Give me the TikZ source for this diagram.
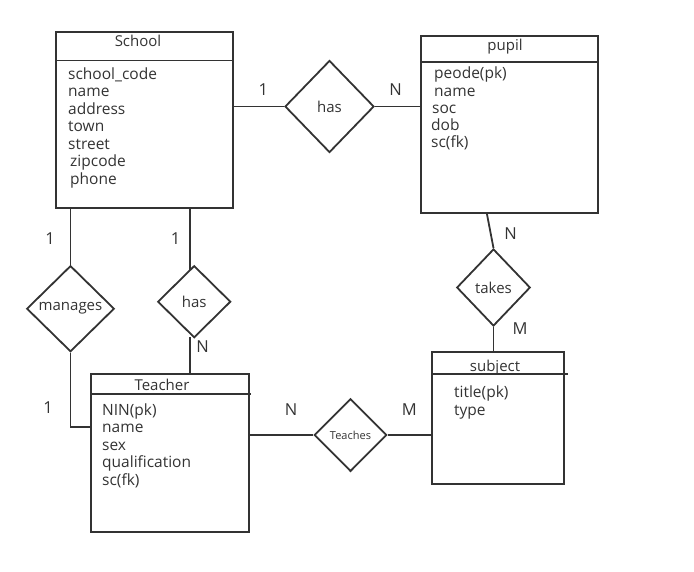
\documentclass[tikz,border=0pt]{standalone}
\usepackage{fontspec}
\setmainfont{Open Sans}
\usetikzlibrary{shapes.geometric,calc}
\definecolor{ln}{HTML}{333333}
\definecolor{tx}{HTML}{333333}
\begin{document}
\begin{tikzpicture}[x=1pt,y=-1pt,
  ent/.style={draw=ln, line width=1.8pt, anchor=north west, inner sep=0, outer sep=0},
  rel/.style={draw=ln, line width=1.8pt, diamond, inner sep=0, text=tx, font=\fontsize{15}{15}\selectfont},
  conn/.style={draw=ln, line width=1.8pt},
  attr/.style={anchor=base west, inner sep=0, text=tx, font=\fontsize{15.5}{15.5}\selectfont},
  ttl/.style={anchor=base, inner sep=0, text=tx, font=\fontsize{15}{15}\selectfont},
  card/.style={inner sep=0, text=tx, font=\fontsize{16.5}{16.5}\selectfont}]
\useasboundingbox (0,0) rectangle (694,571);

% ---- entities ----
\node[ent, minimum width=176.7pt, minimum height=176pt] (school) at (56,31.7) {};
\node[ent, minimum width=177pt, minimum height=176.7pt] (pupil) at (420.7,36) {};
\node[ent, minimum width=158pt, minimum height=158.3pt] (teacher) at (91,374) {};
\node[ent, minimum width=132pt, minimum height=132pt] (subject) at (432.3,352.3) {};

% header separators
\coordinate (sh) at (56,60.5);
\draw[conn] (sh) -- (sh -| school.east);
\coordinate (ph) at (420.7,62.3);
\draw[conn] (ph) -- (ph -| pupil.east);
\coordinate (th) at (91,394);
\draw[conn] (th) -- ($(th -| teacher.east)+(2,0)$);
\coordinate (subh) at (432.3,374);
\draw[conn] (subh) -- ($(subh -| subject.east)+(3.5,0)$);

% titles
\node[ttl] (tSchool) at (138,46.5) {School};
\node[ttl] (tPupil) at (505,50) {pupil};
\node[ttl] (tTeacher) at (162,390.5) {Teacher};
\node[ttl] (tSubject) at (495,371) {subject};

% school attributes
\node[attr] (s1) at (68,79) {school\_code};
\node[attr] (s2) at (68,96.5) {name};
\node[attr] (s3) at (68,114) {address};
\node[attr] (s4) at (68,131.5) {town};
\node[attr] (s5) at (68,149) {street};
\node[attr] (s6) at (70,166.5) {zipcode};
\node[attr] (s7) at (70,184) {phone};

% pupil attributes
\node[attr] (p1) at (434,78.5) {peode(pk)};
\node[attr] (p2) at (434,96) {name};
\node[attr] (p3) at (432,113) {soc};
\node[attr] (p4) at (431,130) {dob};
\node[attr] (p5) at (431,147) {sc(fk)};

% teacher attributes
\node[attr] (t1) at (102,415) {NIN(pk)};
\node[attr] (t2) at (102,432.5) {name};
\node[attr] (t3) at (102,450) {sex};
\node[attr] (t4) at (102,467.5) {qualification};
\node[attr] (t5) at (102,485) {sc(fk)};

% subject attributes
\node[attr] (u1) at (454,397.5) {title(pk)};
\node[attr] (u2) at (454,415) {type};

% ---- relationships ----
\node[rel, minimum width=89pt, minimum height=92pt] (hasA) at (329.5,106.5) {has};
\node[rel, minimum width=87.6pt, minimum height=86pt] (manages) at (70.5,308.7) {manages};
\node[rel, minimum width=73pt, minimum height=72pt] (hasB) at (194.2,301.7) {has};
\node[rel, minimum width=73.5pt, minimum height=77pt] (takes) at (493.5,287.5) {takes};
\node[rel, minimum width=72.4pt, minimum height=72.7pt, font=\fontsize{11}{11}\selectfont] (teaches) at (350.5,435) {Teaches};

% ---- connectors ----
\draw[conn] (hasA.west -| school.east) -- (hasA.west);
\draw[conn] (hasA.east) -- (hasA.east -| pupil.west);

\coordinate (mTop) at (manages.north |- school.south);
\draw[conn] (mTop) -- (manages.north);
\coordinate (mCorner) at (manages.south |- 0,427);
\draw[conn] (manages.south) -- (mCorner) -- (mCorner -| teacher.west);

\coordinate (hbTop) at (190,207.7);
\coordinate (hbIn) at (190,269.8);
\draw[conn] (hbTop) -- (hbIn);
\coordinate (hbOut) at (190,337);
\draw[conn] (hbOut) -- (hbOut |- teacher.north);

\coordinate (tkTop) at (486.7,212.7);
\draw[conn] (tkTop) -- (takes.north);
\draw[conn] (takes.south) -- (takes.south |- subject.north);

\coordinate (teL) at (teaches.west -| teacher.east);
\draw[conn] (teL) -- (teaches.west);
\draw[conn] (teaches.east) -- (teaches.east -| subject.west);

% ---- cardinalities ----
\node[card] (c1) at (263.3,90) {1};
\node[card] (c2) at (395.7,90) {N};
\node[card] (c3) at (50,239) {1};
\node[card] (c4) at (175.7,239) {1};
\node[card] (c5) at (202.7,347) {N};
\node[card] (c6) at (48,408) {1};
\node[card] (c7) at (510.5,234) {N};
\node[card] (c8) at (520,329) {M};
\node[card] (c9) at (291,410) {N};
\node[card] (c10) at (409.3,410) {M};
\end{tikzpicture}
\end{document}
